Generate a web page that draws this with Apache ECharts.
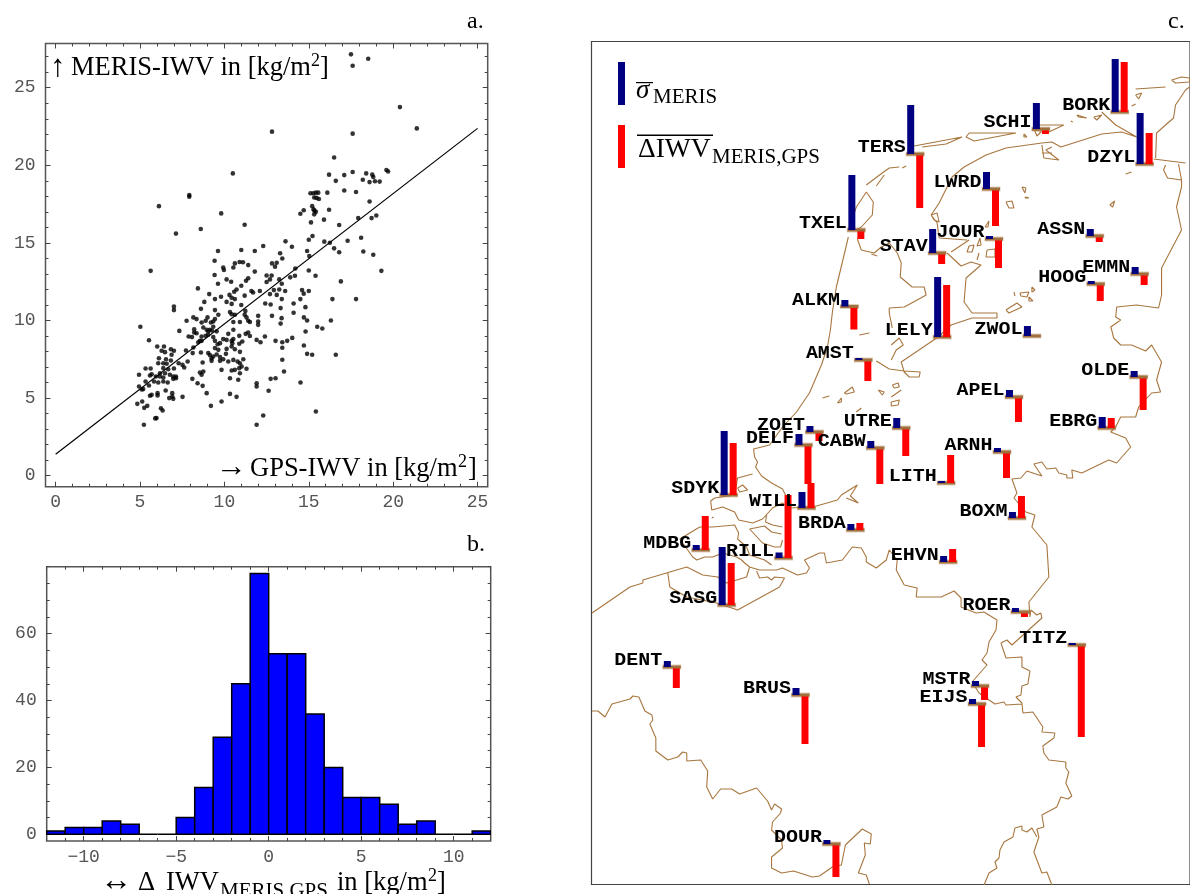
<!DOCTYPE html>
<html><head><meta charset="utf-8">
<style>html,body{margin:0;padding:0;background:#fff}#c{width:1190px;height:894px}</style>
<script src="https://cdn.jsdelivr.net/npm/echarts@6/dist/echarts.min.js"></script>
</head><body><div id="c"></div>
<script>
// ---------- a. scatter: [GPS-IWV, MERIS-IWV] in kg/m2
const scatterPoints = [
[17.5,27.15],[18.52,26.87],[17.6,26.42],[20.4,23.75],[21.4,22.38],[12.82,22.17],[17.6,22.04],[16.5,20.5],[10.5,19.48],[16.2,19.4],[17.1,19.37],[17.6,19.57],[18.4,19.48],[18.76,19.4],[18.82,19.25],[18.2,19.07],[18.6,18.92],[18.92,18.97],[19.2,18.95],[19.6,19.7],[19.7,19.6],[16.6,19.0],
[7.92,18.08],[7.92,17.98],[6.12,17.37],[9.81,16.9],[11.2,16.17],[8.6,15.9],[7.13,15.6],[15.1,18.2],[15.27,18.2],[15.42,18.24],[15.56,18.24],[16.1,18.24],[17.1,18.38],[17.8,18.28],[15.32,17.93],[15.46,17.9],[15.6,17.83],[18.6,17.67],
[15.2,17.37],[15.28,17.16],[14.7,17.1],[14.5,16.88],[15.34,17.08],[15.42,17.0],[15.32,16.84],[16.2,17.14],[15.9,16.5],[15.13,16.32],[16.8,16.15],[17.93,16.6],[18.72,16.6],[19.0,16.77],
[15.22,15.45],[15.0,15.2],[15.92,15.08],[16.25,15.01],[17.3,15.14],[18.1,15.33],[13.62,15.1],[14.0,14.75],[14.9,14.48],[16.5,14.65],[16.8,14.4],[18.23,14.45],[18.82,14.24],[15.03,14.15],[13.3,14.33],[13.43,14.0],[12.3,14.8],[11.8,14.48],[11.0,14.54],[9.62,14.48],[9.42,13.85],[19.3,13.2],[5.63,13.2],
[10.9,13.77],[11.1,13.75],[10.62,13.68],[11.41,13.57],[12.82,13.68],[13.1,13.72],[13.0,13.47],[9.93,13.42],[9.97,13.25],[10.53,13.42],[11.8,13.15],[14.2,13.35],[15.0,13.22],[9.42,12.93],[12.5,12.9],[12.8,12.9],[13.9,12.78],[14.18,12.88],[15.4,12.88],[11.41,12.72],[11.28,12.56],[10.13,12.65],[10.4,12.5],[9.62,12.37],[12.7,12.65],[13.25,12.65],[12.5,12.48],[13.4,12.37],[16.9,12.52],[11.0,12.24],[10.72,12.0],[10.58,11.85],[8.43,12.07],[11.6,11.9],[11.7,11.8],[12.1,11.9],[12.93,11.96],[13.25,12.0],[13.6,11.9],[14.6,11.96],[15.0,11.9],[14.7,11.73],[9.1,11.7],[10.3,11.65],[11.2,11.6],[12.7,11.7],[13.1,11.65],[9.8,11.53],[10.43,11.47],[9.44,11.38],[10.62,11.38],[13.4,11.38],[14.5,11.38],[16.4,11.38],[17.8,11.38],
[8.81,11.2],[10.13,11.2],[10.43,11.07],[12.42,11.1],[12.74,11.03],[14.1,11.1],[13.33,10.8],[14.8,10.86],[14.1,10.5],[7.01,10.9],[7.01,10.67],[8.61,10.75],[9.44,10.67],[11.24,10.62],[11.0,11.0],[9.64,10.37],[10.33,10.54],[10.43,10.4],[10.62,10.37],[11.2,10.37],[12.0,10.3],[12.82,10.3],[13.39,10.15],[8.16,10.2],[7.76,9.98],[8.35,10.09],[9.0,10.2],[9.44,10.1],[9.34,9.94],[11.31,10.2],[11.41,9.98],[10.53,9.9],[10.92,9.9],[11.51,9.9],[14.71,10.2],[14.9,10.0],[16.31,10.0],[12.0,9.94],[12.0,9.72],[13.33,9.8],[5.02,9.6],[7.33,9.33],[8.21,9.44],[8.65,9.87],[8.89,9.98],[9.2,9.87],[8.75,9.55],[9.34,9.6],[8.95,9.4],[9.54,9.3],[10.53,9.4],[10.23,9.14],[8.21,9.23],[8.35,9.18],[9.04,9.29],[9.14,9.4],[9.26,9.36],[14.81,9.29],[15.5,9.6],[15.8,9.48],
[11.26,9.14],[11.41,9.23],[11.51,9.0],[10.88,9.01],[12.4,8.97],[7.88,8.97],[8.08,8.93],[8.65,8.97],[8.89,9.01],[9.04,9.08],[9.34,8.93],[5.53,8.73],[11.91,8.75],[12.14,8.6],[13.03,8.69],[13.43,8.6],[13.72,8.69],[14.02,8.88],[11.06,8.65],[10.53,8.8],[9.93,8.8],[10.13,8.75],[10.43,8.69],[9.44,8.69],[8.45,8.6],[8.55,8.69],[8.65,8.69],[9.74,8.54],[9.6,8.47],[14.71,8.39],[10.47,8.54],[10.88,8.5],
[6.02,8.32],[6.42,8.32],[13.43,8.24],[8.16,8.26],[10.43,8.32],[9.44,8.22],[9.64,8.11],[10.13,8.17],[10.62,8.15],[6.83,8.15],[7.01,8.05],[7.72,8.07],[6.28,8.05],[6.48,7.96],[8.61,7.94],[9.04,7.9],[8.12,7.9],[10.92,7.98],[10.09,7.85],[14.9,7.85],[15.2,7.79],[16.6,7.79],[6.87,7.79],[9.14,7.77],[9.24,7.57],[9.34,7.68],[9.54,7.81],[9.74,7.64],[9.93,7.5],[6.12,7.57],[11.12,7.5],[10.53,7.46],[10.23,7.36],[10.78,7.36],[13.43,7.47],[6.54,7.5],[6.83,7.42],[7.82,7.36],[7.29,7.25],[9.74,7.4],[9.24,7.4],[8.71,7.29],[6.08,7.25],[6.38,7.25],[6.58,7.21],[7.52,7.14],[7.62,6.97],[10.92,7.25],[11.02,7.04],[10.88,6.93],
[5.33,6.91],[5.63,6.91],[6.38,6.93],[7.01,6.91],[6.67,6.86],[9.83,6.82],[10.43,6.78],[10.62,6.82],[11.31,6.89],[13.53,6.71],[8.75,6.71],[8.55,6.65],[6.18,6.6],[6.48,6.6],[5.69,6.54],[5.59,6.46],[4.94,6.5],[8.65,6.5],[10.92,6.6],[6.77,6.5],[6.97,6.39],[7.13,6.39],[6.18,6.39],[6.38,6.33],[5.94,6.39],[8.1,6.24],[10.33,6.28],[10.82,6.18],[12.74,6.24],[13.03,6.28],[6.97,6.24],[7.13,6.28],[5.33,6.07],[5.83,6.07],[6.08,6.0],[6.38,6.07],[6.64,6.0],[8.41,5.96],[11.91,5.96],[14.51,6.0],[5.53,5.81],[4.94,5.75],[8.71,5.79],[11.91,5.75],[5.19,5.58],[5.1,5.55],[12.62,5.47],[6.52,5.49],[8.95,5.32],[10.33,5.27],[6.04,5.32],[6.04,5.17],[5.69,5.21],[5.59,5.15],[6.91,5.32],[6.91,5.1],[6.73,5.0],[6.97,4.95],[7.52,5.08],[10.72,5.08],[5.13,4.78],[4.84,4.63],[9.83,4.78],[9.2,4.5],[5.43,4.5],[5.25,4.37],[6.24,4.35],[6.34,4.2],[15.42,4.14],[12.3,3.88],[5.98,3.71],[5.9,3.69],[5.23,3.28],[11.91,3.28]
];
const fitLine = [[0,1.38],[25,22.38]];
const scatterXTicks = [0,5,10,15,20,25];
const scatterYTicks = [0,5,10,15,20,25];
// ---------- b. histogram
const histEdges = [-12,-11,-10,-9,-8,-7,-6,-5,-4,-3,-2,-1,0,1,2,3,4,5,6,7,8,9,10,11,12];
const histCounts = [1,2,2,4,3,0,0,5,14,29,45,78,54,54,36,20,11,11,9,3,4,0,0,1];
const histXTicks = [-10,-5,0,5,10];
const histYTicks = [0,20,40,60];
// ---------- c. stations, in map units
const stationNames = ['TXEL','ALKM','TERS','SCHI','BORK','DZYL','LWRD','STAV','JOUR','ASSN','HOOG','EMMN','LELY','ZWOL','OLDE','APEL','EBRG','UTRE','ARNH','LITH','BOXM','EHVN','ROER','AMST','ZOET','DELF','CABW','SDYK','WILL','BRDA','MDBG','RILL','SASG','DENT','BRUS','DOUR','TITZ','MSTR','EIJS'];
const stationX = [849,842,908,1034,1113,1138,984,930,987,1088,1089,1133,935,1025,1132,1007,1100,894,995,939,1010,941,1013,856,807,796,868,721,799,848,693,776,719,664,793,824,1070,973,970];
const stationY = [230,306.5,154,129,112,164,189,253,239,236,284,274,337,336,377,397,428,428,452,483,518,562,612,360,432,445,448,495,508,530,550,558,605,667,695,844,645,686,704];
const sigmaBar = [55,6.5,49,26,53,51,17,24,3,7,3,7,60,10,6,7,11,10,4,2,6,6,4,2,6,11,7,64,16,6,5,5.5,58,6,7,4,2,5,5];
const deltaBar = [-9,-23,-54,-5,50,31,-37,-11,-29,-6,-17,-11,52,-1,-33,-25,10,-28,-26,28,22,13,-5,-21,-9,-39,-36,52,25,7,34,63,42,-21,-49,-33,-92,-14,-43];
// ---------- c. coast and border outlines, in map units
const coastPaths = [
[[849,237],[843,262],[837,287],[833,312],[831,330],[828,347],[822,365],[810,393],[797,412],[783,427],[770,445],[762,447],[754,449],[755,457],[758,462],[756,467],[762,476],[772,483],[783,489],[787,497]],
[[753,474],[738,478],[735,495],[715,498],[711,501],[712,510],[714,512],[723,507],[735,512],[739,520],[753,523],[763,519],[773,508],[783,503],[790,508],[808,507],[817,506],[838,500],[842,495],[858,485],[851,496],[859,503],[847,498]],
[[738,488],[743,485],[748,490],[740,492],[738,488]],
[[767,515],[766,522],[773,525],[783,527]],
[[750,529],[765,526],[772,532],[782,534]],
[[750,529],[763,543],[775,547],[781,547],[783,540]],
[[712,518],[714,517]],
[[680,539],[700,527],[713,527],[735,525],[739,533],[738,539],[747,547],[750,555],[765,560],[772,565]],
[[680,539],[693,557],[697,560],[705,557],[713,557],[723,553],[737,557],[742,560],[745,563],[750,567],[760,570],[777,570],[783,568],[798,575],[807,573],[810,568],[805,560],[820,553],[825,553],[827,563],[843,560],[853,547],[862,548],[867,557],[867,562],[877,568],[887,560],[890,550],[898,560],[897,570],[905,585],[918,588],[917,597],[942,597],[955,591],[962,598],[962,607],[977,613],[985,612],[998,620],[997,630],[999,632],[990,642],[988,653],[983,660],[988,665],[973,682],[980,693],[990,700],[996,704],[1005,702],[1007,705],[1023,704]],
[[592,613],[630,587],[643,583],[643,580],[645,582],[687,567],[703,575],[718,577],[727,583],[747,577],[750,567]],
[[668,573],[670,587],[687,597],[717,603],[738,610],[780,587],[785,578],[775,577],[772,580],[768,577],[760,578],[757,571]],
[[849,230],[857,207],[867,192],[874,202],[873,215],[862,227],[857,230]],
[[867,185],[883,173],[890,168],[900,167]],[[877,186],[885,175]],[[903,168],[907,166]],
[[858,239],[862,250],[875,253],[882,247],[890,243],[898,253],[902,263],[901,277],[913,287],[925,287],[927,295],[918,300],[905,307],[890,308],[890,313],[893,328]],
[[872,254],[878,256],[876,258],[872,254]],
[[965,167],[987,155],[1007,148],[1043,143],[1053,142],[1062,147],[1103,134],[1123,132],[1138,137]],
[[965,167],[953,177],[940,203],[932,215],[938,223],[940,238],[968,240]],
[[952,252],[970,240]],
[[948,253],[962,266],[972,262],[982,265],[967,278],[965,302],[973,313],[998,313],[998,318],[973,318],[952,325],[939,337],[902,362],[905,372],[910,377],[920,377],[921,372],[905,371],[890,369],[877,361]],
[[1103,112],[1117,125],[1138,137]],
[[1157,158],[1158,133],[1167,125],[1175,118],[1177,105],[1187,90],[1191,87]],
[[1155,159],[1187,163]],
[[1167,165],[1165,170],[1169,178],[1183,180],[1180,164]],
[[1183,180],[1183,187],[1178,207],[1183,230],[1163,268],[1163,295],[1160,308],[1138,305],[1118,307],[1117,317],[1122,320],[1112,327],[1113,330],[1115,338],[1122,345],[1133,345],[1147,351],[1153,345],[1163,362],[1158,380],[1162,392],[1153,393],[1140,407],[1137,417],[1122,417],[1117,427],[1112,432],[1127,438],[1132,447],[1118,463],[1110,460],[1083,473],[1073,470],[1074,478],[1068,478],[1068,475],[1060,473],[1057,468],[1048,469],[1043,462],[1035,464],[1043,476],[1028,471],[1022,478],[1013,479],[1018,493],[1015,498],[1027,512],[1036,515],[1033,527],[1048,545],[1050,577],[1030,602],[1031,617],[1032,610],[1038,615],[1042,613],[1043,618],[1013,645],[1008,640],[1002,643],[1007,658],[1023,657],[1023,667],[1031,671],[1029,684],[1023,686],[1022,695],[1017,697],[1023,703],[1024,713],[1034,712],[1044,727],[1043,732],[1056,733],[1055,738],[1044,746],[1045,753],[1050,760],[1067,762],[1067,768],[1070,772],[1067,783],[1073,796],[1069,799],[1062,797],[1058,807],[1043,815],[1045,827],[1038,829],[1040,837],[1035,852],[1043,873],[1048,872],[1053,885]],
[[1038,837],[1033,828],[1028,832],[1023,830],[1023,826],[1016,828],[1014,837],[1005,842],[1001,850],[1000,858],[996,862],[998,868],[990,873],[985,885]],
[[592,711],[598,711],[605,717],[612,704],[630,699],[633,696],[639,697],[645,711],[652,715],[653,720],[650,724],[656,738],[656,751],[668,760],[678,757],[683,752],[687,753],[687,761],[701,760],[708,771],[707,787],[713,799],[721,789],[732,789],[740,794],[757,788],[768,801],[772,810],[775,804],[782,809],[781,813],[773,822],[772,830],[782,840],[783,848],[772,857],[772,868],[782,873],[794,871],[813,877],[820,876],[833,867],[842,865],[846,845],[863,829],[872,834],[871,844],[865,843],[866,855],[859,873],[867,875],[870,884]],
[[915,146],[963,137],[947,144],[923,147]],
[[970,133],[1017,133],[975,141],[967,137],[970,133]],
[[1040,125],[1065,125],[1050,132],[1033,130]],
[[1025,134],[1028,137],[1025,137],[1025,134]],[[1036,131],[1038,136],[1042,132]],[[1072,121],[1074,122]],[[1078,115],[1088,118],[1080,117],[1078,115]],[[1095,117],[1103,115],[1098,120],[1095,117]],[[1137,89],[1167,87]],[[1173,80],[1183,77],[1191,78],[1191,82],[1177,83],[1173,80]],[[1137,95],[1143,93],[1140,99],[1137,95]],[[1133,106],[1137,104]],[[1127,174],[1133,172]],
[[1043,145],[1045,158],[1060,160],[1047,150],[1053,147]],[[1043,153],[1053,153]],
[[1023,187],[1027,188],[1026,193],[1023,187]],[[1027,197],[1030,198],[1026,198],[1027,197]],[[1007,202],[1013,201],[1015,208],[1010,208],[1007,202]],[[1111,205],[1116,201],[1114,207],[1111,205]],
[[986,227],[990,221],[989,227],[987,229],[986,227]],[[970,246],[975,245],[973,252],[968,252],[970,246]],[[981,238],[982,245],[978,246],[981,238]],[[988,250],[996,249],[996,257],[987,257],[988,250]],[[980,253],[978,260]],
[[1015,292],[1016,296]],[[1021,293],[1030,292],[1028,297],[1022,296],[1021,293]],[[1033,287],[1036,290],[1033,292],[1033,287]],[[1030,297],[1034,301],[1030,301],[1030,297]],[[1007,310],[1018,303],[1023,307],[1010,313],[1007,310]],
[[932,215],[938,213],[940,222],[935,220],[932,215]],
[[860,335],[870,333],[868,335],[860,335]],[[845,393],[853,387],[855,392],[847,394],[845,393]],[[823,398],[830,396],[832,398],[823,398]],[[838,403],[842,398],[842,402],[838,403]],[[879,390],[885,392],[883,395],[879,390]],[[857,412],[862,408]],
[[892,345],[900,338],[904,345],[897,350],[892,360]],
[[893,385],[899,383],[900,387],[895,388],[893,385]],[[892,397],[902,390]],[[892,402],[900,400],[899,405],[892,406],[892,402]]
];
const serif = '"Liberation Serif"';
const mono = '"Liberation Mono"';
const TICK = '#444';
function notes(list){
  return list.map(([text,x,base,size,italic])=>({
    type:'text',x:x,y:base-0.26*size,silent:true,z:20,
    style:{text:text,fill:'#000',font:(italic?'italic ':'')+size+'px '+serif,textAlign:'left',textVerticalAlign:'middle'}
  }));
}
function range(a,b,s){const r=[];for(let v=a;v<=b+1e-9;v+=s)r.push(v);return r;}
function frameAxes(dim,gridIndex,min,max,majors,minors,margin){
  const near=dim==='x'?'bottom':'left', far=dim==='x'?'top':'right';
  const base=(pos,vals,len,label)=>({
    type:'value',gridIndex,min,max,position:pos,silent:true,
    splitLine:{show:false},axisLine:{show:false,onZero:false},
    axisTick:{show:true,inside:true,length:len,customValues:vals,lineStyle:{color:TICK,width:1}},
    axisLabel:label?{show:true,margin:margin,customValues:majors,color:'#555',fontFamily:mono,fontSize:18,
      formatter:v=>String(v).replace('-','\u2212')}:{show:false}
  });
  return [base(near,majors,5,true),base(far,majors,5,false),base(near,minors,3,false),base(far,minors,3,false)];
}
const option = {
  animation:false,backgroundColor:'#fff',
  grid:[
    {left:45.5,top:43.5,width:442.2,height:443.2,show:true,borderColor:'#555',borderWidth:1.5,backgroundColor:'#fff'},
    {left:46.7,top:566.7,width:444,height:274.3,show:true,borderColor:'#555',borderWidth:1.5,backgroundColor:'#fff'},
    {left:591.5,top:41.5,width:600,height:843,show:true,borderColor:'#444',borderWidth:1.2,backgroundColor:'#fff'}
  ],
  xAxis:[
    ...frameAxes('x',0,-0.6,25.6,scatterXTicks,range(0,25,1),7),
    ...frameAxes('x',1,-12,12,histXTicks,range(-12,12,1),7),
    {type:'value',gridIndex:2,min:591.5,max:1191.5,show:false}
  ],
  yAxis:[
    ...frameAxes('y',0,-0.71,27.85,scatterYTicks,range(0,27,1),10),
    ...frameAxes('y',1,-2,80,histYTicks,range(0,80,5),10),
    {type:'value',gridIndex:2,min:41.5,max:884.5,inverse:true,show:false}
  ],
  series:[
    {type:'scatter',xAxisIndex:0,yAxisIndex:0,data:scatterPoints,symbol:'circle',symbolSize:4.6,itemStyle:{color:'#000'},silent:true},
    {type:'line',xAxisIndex:0,yAxisIndex:0,data:fitLine,symbol:'none',lineStyle:{color:'#000',width:1.2},silent:true},
    {type:'custom',xAxisIndex:4,yAxisIndex:4,silent:true,clip:true,
      data:histCounts.map((c,i)=>[histEdges[i],histEdges[i+1],c]),encode:{x:[0,1],y:2},
      renderItem:(p,api)=>{
        const a=api.coord([api.value(0),0]),b=api.coord([api.value(1),api.value(2)]);
        return {type:'rect',shape:{x:a[0],y:b[1],width:b[0]-a[0],height:a[1]-b[1]},
          style:{fill:'#0000FF',stroke:'#000',lineWidth:1.5}};
      }},
    {type:'line',xAxisIndex:8,yAxisIndex:8,silent:true,clip:true,symbol:'none',connectNulls:false,
      data:coastPaths.flatMap(p=>[...p,['-','-']]),lineStyle:{color:'#A8763F',width:1.1}},
    {type:'custom',xAxisIndex:8,yAxisIndex:8,silent:true,clip:false,z:5,
      data:stationNames.map((n,i)=>[stationX[i],stationY[i],sigmaBar[i],deltaBar[i]]),encode:{x:0,y:1},
      renderItem:(p,api)=>{
        const x=api.value(0),y=api.value(1),s=api.value(2),d=api.value(3);
        const o=api.coord([x,y]),top=api.coord([x,y-s]),red=api.coord([x,y-d]);
        const ry=Math.min(o[1],red[1]),rh=Math.abs(red[1]-o[1]);
        return {type:'group',children:[
          {type:'rect',z2:1,shape:{x:o[0]-1.5,y:o[1]-2.5,width:19,height:5},style:{fill:'rgba(160,111,60,0.35)'}},
          {type:'rect',z2:d<0?2:3,shape:{x:o[0]+9,y:ry,width:7,height:rh},style:{fill:'#FF0000'}},
          {type:'rect',z2:d<0?3:2,shape:{x:o[0]-1,y:o[1]-1.5,width:18,height:3},style:{fill:'#A06F3C'}},
          {type:'rect',z2:4,shape:{x:o[0],y:top[1],width:7,height:o[1]-top[1]},style:{fill:'#000080'}},
          {type:'text',z2:10,x:o[0]-1.5,y:o[1]-6.5,scaleX:1.11,style:{text:stationNames[p.dataIndex],
            font:'bold 18px '+mono,fill:'#000',textAlign:'right',textVerticalAlign:'middle'}}
        ]};
      }}
  ],
  graphic:[
    ...notes([
      ['a.',467,28,24],['b.',467,551,24],['c.',1168,28,24],
      ['\u2191',50,76,31],['MERIS-IWV in [kg/m',71,75,26.5],['2',311,66,18],[']',320,75,26.5],
      ['\u2192',216,476,31],['GPS-IWV in [kg/m',250,476,26.5],['2',458,467,18],[']',468,476,26.5],
      ['\u2194',100,890,32],['\u0394',138,890,26.5],['IWV',166,890,26.5],['MERIS,GPS',220,897,21],['in [kg/m',337,890,26.5],['2',428,881,18],[']',437,890,26.5],
      ['\u03C3',636,98,27,true],['MERIS',653,103,21],
      ['\u0394IWV',638,157,27.5],['MERIS,GPS',712,163,21]
    ]),
    {type:'rect',silent:true,z:20,shape:{x:618,y:62,width:7,height:43},style:{fill:'#000080'}},
    {type:'rect',silent:true,z:20,shape:{x:618,y:125,width:7,height:43},style:{fill:'#FF0000'}},
    {type:'rect',silent:true,z:20,shape:{x:636,y:82,width:17,height:1.2},style:{fill:'#000'}},
    {type:'rect',silent:true,z:20,shape:{x:637,y:134.5,width:76,height:1.4},style:{fill:'#000'}}
  ]
};
echarts.init(document.getElementById('c'),null,{renderer:'canvas'}).setOption(option);
</script></body></html>
